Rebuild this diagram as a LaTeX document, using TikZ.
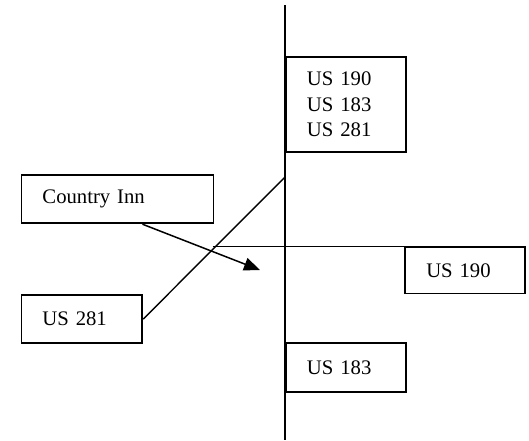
\documentclass[tikz,border=0pt]{standalone}
\usepackage{fontspec}
\setmainfont{Liberation Serif}
\usetikzlibrary{arrows.meta,calc}
\begin{document}
\begin{tikzpicture}[x=1pt,y=-1pt,
  roadbox/.style={draw,line width=1.9pt,rectangle,anchor=north west,inner xsep=21pt,inner ysep=0pt,align=left,font=\fontsize{20.7}{25.3}\selectfont},
  road/.style={line width=#1},
  ]
\useasboundingbox (0,0) rectangle (529,440);
% boxes
\node[roadbox,minimum width=119.7pt,minimum height=95.3pt,text width=77.7pt] (top) at (285,55.7) {US 190\\US 183\\US 281};
\node[roadbox,minimum width=192pt,minimum height=48pt,text width=150pt] (ci) at (20.5,174.3) {Country Inn};
\node[roadbox,minimum width=120.8pt,minimum height=47.7pt,text width=78.8pt] (u281) at (20.5,294.3) {US 281};
\node[roadbox,minimum width=120pt,minimum height=46.2pt,text width=78pt] (u190) at (404.3,246.3) {US 190};
\node[roadbox,minimum width=120pt,minimum height=48.7pt,text width=78pt] (u183) at (285,342) {US 183};
% roads
\coordinate (vtop) at (285,5);
\coordinate (vbot) at (285,440);
\draw[road=2.2pt] (vtop) -- (vbot);
\coordinate (dj) at (285,177);
\draw[road=1.4pt] (u281.east) -- (dj);
\coordinate (hstart) at (212.5,246.3);
\draw[road=1.5pt] (hstart) -- (u190.north west);
\coordinate (arrowtip) at (260,270);
\draw[road=1.5pt,-{Triangle[length=16pt,width=13pt]}] ($(ci.south west)+(122,0)$) -- (arrowtip);
\end{tikzpicture}
\end{document}
